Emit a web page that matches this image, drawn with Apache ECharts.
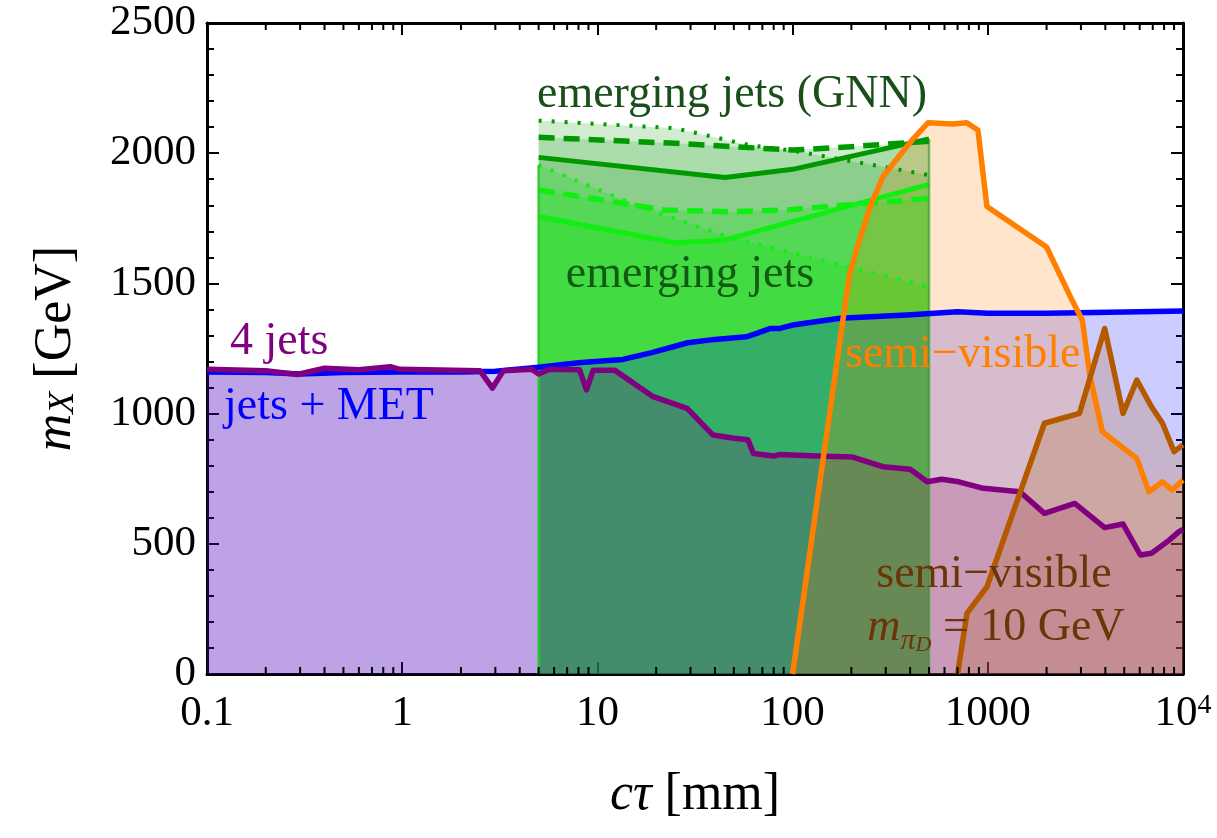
<!DOCTYPE html>
<html><head><meta charset="utf-8">
<script src="https://cdn.jsdelivr.net/npm/echarts@6/dist/echarts.min.js"></script>
<style>html,body{margin:0;padding:0;background:#fff}#c{width:1217px;height:838px}</style>
</head><body><div id="c"></div>
<script>
// ---- tick labels ----
const xTickLabels = ['0.1', '1', '10', '100', '1000', '{b|10}{s|4}'];
const yTickStep = 500;

// ---- jets + MET (blue) ----
const ctJetsMET = [0.1, 0.2, 0.3, 0.5, 1, 2, 3, 5, 8, 13.5, 19, 29, 40, 58, 66, 77, 86, 100, 175, 385, 700, 1000, 2000, 5000, 10000];
const mJetsMET  = [1160, 1158, 1152, 1158, 1160, 1160, 1163, 1178, 1195, 1208, 1234, 1272, 1285, 1295, 1309, 1327, 1327, 1340, 1366, 1379, 1391, 1385, 1385, 1390, 1394];

// ---- 4 jets (purple) ----
const ct4jets = [0.1, 0.2, 0.29, 0.4, 0.6, 0.87, 0.97, 2.5, 2.9, 3.3, 4.6, 5.0, 5.7, 8.1, 8.8, 9.5, 12.3, 19.3, 28.8, 39, 50, 59, 63, 80, 86, 133, 203, 290, 400, 490, 580, 710, 950, 1460, 1950, 2790, 3970, 4930, 6050, 6900, 8500, 9500, 10000];
const m4jets  = [1170, 1165, 1150, 1174, 1168, 1180, 1170, 1165, 1098, 1165, 1170, 1152, 1170, 1168, 1091, 1166, 1166, 1065, 1020, 918, 905, 900, 847, 837, 843, 837, 833, 796, 786, 738, 748, 738, 713, 700, 617, 655, 562, 576, 457, 464, 514, 546, 555];

// ---- semi-visible (orange) ----
const ctSemi = [100, 195, 220, 250, 290, 350, 410, 495, 660, 780, 890, 990, 2000, 2700, 3050, 3340, 3870, 5800, 6700, 7850, 8800, 10000];
const mSemi  = [0, 1530, 1667, 1795, 1910, 1987, 2051, 2117, 2112, 2117, 2089, 1795, 1640, 1436, 1359, 1142, 930, 828, 700, 738, 707, 745];

// ---- semi-visible m_piD = 10 GeV (brown) ----
const ctSemi10 = [700, 782, 990, 1950, 2950, 3970, 4930, 5800, 6900, 7850, 9000, 10000];
const mSemi10  = [0, 233, 335, 963, 1001, 1327, 1001, 1129, 1026, 963, 854, 880];

// ---- emerging jets (GNN) ----
const ctGnnSolid = [5, 45, 100, 500];
const mGnnSolid  = [1984, 1907, 1938, 2055];
const ctGnnDash  = [5, 25, 100, 200, 500];
const mGnnDash   = [2061, 2038, 2012, 2025, 2046];
const ctGnnDot   = [5, 25, 60, 100, 500];
const mGnnDot    = [2125, 2096, 2031, 2010, 1916];

// ---- emerging jets ----
const ctEjSolid = [5, 25, 45, 500];
const mEjSolid  = [1757, 1656, 1667, 1880];
const ctEjDash  = [5, 22, 46, 93, 500];
const mEjDash   = [1859, 1782, 1775, 1782, 1827];
const ctEjDot   = [5, 15, 46, 500];
const mEjDot    = [1955, 1807, 1680, 1487];

const FONT = 'Liberation Serif, DejaVu Serif, serif';

// minor log ticks (2..9 per decade)
const minorX = [];
for (let d = -1; d < 4; d++) for (let k = 2; k <= 9; k++) minorX.push(k * Math.pow(10, d));

function pairs(xs, ys) { return xs.map((x, i) => [x, ys[i]]); }
function area(xs, ys, color, width, type, fill, op) {
  return {
    type: 'line', data: pairs(xs, ys), symbol: 'none', showSymbol: false, silent: true,
    lineStyle: { color: color, width: width, type: type, join: 'round', cap: 'butt' },
    areaStyle: { color: fill, opacity: op }, z: 2
  };
}
function edge(x, top, color, op) {
  return { type: 'line', data: [[x, 0], [x, top]], symbol: 'none', silent: true,
    lineStyle: { color: color, width: 2.5, opacity: op }, z: 2 };
}

const GNN = '#009a00', GNNF = 'rgb(0,150,0)';
const EJ = '#11ee11', EJF = 'rgb(0,230,0)';

const series = [
  area(ctGnnDot, mGnnDot, GNN, 4, [3, 10], GNNF, 0.18),
  area(ctGnnDash, mGnnDash, GNN, 5.5, [16, 9], GNNF, 0.18),
  area(ctGnnSolid, mGnnSolid, GNN, 5, 'solid', GNNF, 0.18),
  area(ctEjDot, mEjDot, EJ, 4, [3, 10], EJF, 0.22),
  area(ctEjDash, mEjDash, EJ, 5.5, [16, 9], EJF, 0.22),
  area(ctEjSolid, mEjSolid, EJ, 5, 'solid', EJF, 0.22),
  edge(ctEjSolid[0], mEjDot[0], '#22cc22', 0.9),
  edge(ctGnnSolid[ctGnnSolid.length - 1], mGnnSolid[mGnnSolid.length - 1], '#2a9a2a', 0.6),
  area(ctJetsMET, mJetsMET, '#0000ff', 5.5, 'solid', 'rgb(0,0,255)', 0.2),
  area(ct4jets, m4jets, '#800080', 5.5, 'solid', 'rgb(128,0,128)', 0.2),
  area(ctSemi, mSemi, '#ff8000', 5.5, 'solid', 'rgb(255,127,0)', 0.2),
  area(ctSemi10, mSemi10, '#b35a00', 5.5, 'solid', 'rgb(170,85,0)', 0.2),
  {
    type: 'custom', coordinateSystem: 'cartesian2d', silent: true, z: 10, clip: false,
    data: minorX.map(v => [v, 0]),
    renderItem: function (params, api) {
      const v = api.value(0);
      const b = api.coord([v, 0]);
      const t = api.coord([v, 2500]);
      const st = { stroke: '#000', lineWidth: 2 };
      return { type: 'group', children: [
        { type: 'line', shape: { x1: b[0], y1: b[1], x2: b[0], y2: b[1] - 7 }, style: st },
        { type: 'line', shape: { x1: t[0], y1: t[1], x2: t[0], y2: t[1] + 7 }, style: st }
      ] };
    }
  }
];

const axLine = { show: true, onZero: false, lineStyle: { color: '#000', width: 3 } };
const tick = { show: true, inside: true, length: 12, lineStyle: { color: '#000', width: 2 } };

const option = {
  animation: false,
  backgroundColor: '#fff',
  textStyle: { fontFamily: FONT },
  grid: { left: 207, right: 34, top: 23, bottom: 164, containLabel: false },
  xAxis: [
    {
      type: 'log', logBase: 10, min: 0.1, max: 10000, position: 'bottom',
      axisLine: axLine, axisTick: tick, splitLine: { show: false },
      axisLabel: {
        show: true, margin: 18, color: '#000', fontFamily: FONT, fontSize: 43,
        showMinLabel: true, showMaxLabel: true, hideOverlap: false,
        formatter: function (v) { return xTickLabels[Math.round(Math.log10(v)) + 1]; },
        rich: {
          b: { fontFamily: FONT, fontSize: 43, color: '#000' },
          s: { fontFamily: FONT, fontSize: 28, color: '#000', verticalAlign: 'top' }
        }
      },
      name: '{i|cτ} [mm]', nameLocation: 'middle', nameGap: 95,
      nameTextStyle: { fontFamily: FONT, fontSize: 52, color: '#000',
        rich: { i: { fontFamily: FONT, fontSize: 52, fontStyle: 'italic', color: '#000' } } }
    },
    {
      type: 'log', logBase: 10, min: 0.1, max: 10000, position: 'top',
      axisLine: axLine, axisTick: tick, axisLabel: { show: false }, splitLine: { show: false }
    }
  ],
  yAxis: [
    {
      type: 'value', min: 0, max: 2500, interval: yTickStep, position: 'left',
      axisLine: axLine, axisTick: tick,
      minorTick: { show: true, splitNumber: 5, length: 7, lineStyle: { color: '#000', width: 2 } },
      splitLine: { show: false }, minorSplitLine: { show: false },
      axisLabel: { margin: 11, color: '#000', fontFamily: FONT, fontSize: 43,
        formatter: function (v) { return String(v); } },
      name: '{i|m}{x|X} [GeV]', nameLocation: 'middle', nameGap: 125, nameRotate: 90,
      nameTextStyle: { fontFamily: FONT, fontSize: 52, color: '#000',
        rich: {
          i: { fontFamily: FONT, fontSize: 52, fontStyle: 'italic', color: '#000' },
          x: { fontFamily: FONT, fontSize: 36, fontStyle: 'italic', color: '#000', verticalAlign: 'bottom' }
        } }
    },
    {
      type: 'value', min: 0, max: 2500, interval: yTickStep, position: 'right',
      axisLine: axLine, axisTick: tick,
      minorTick: { show: true, splitNumber: 5, length: 7, lineStyle: { color: '#000', width: 2 } },
      splitLine: { show: false }, axisLabel: { show: false }
    }
  ],
  graphic: [
    { type: 'text', x: 732, y: 95, z: 100, style: { text: 'emerging jets (GNN)', fontFamily: FONT, fontSize: 46, fill: '#1a4f1a', align: 'center', verticalAlign: 'middle' } },
    { type: 'text', x: 690, y: 275, z: 100, style: { text: 'emerging jets', fontFamily: FONT, fontSize: 46, fill: '#125a12', align: 'center', verticalAlign: 'middle' } },
    { type: 'text', x: 230, y: 342, z: 100, style: { text: '4 jets', fontFamily: FONT, fontSize: 46, fill: '#800080', align: 'left', verticalAlign: 'middle' } },
    { type: 'text', x: 224, y: 407, z: 100, style: { text: 'jets + MET', fontFamily: FONT, fontSize: 46, fill: '#0000ff', align: 'left', verticalAlign: 'middle' } },
    { type: 'text', x: 845, y: 355, z: 100, style: { text: 'semi−visible', fontFamily: FONT, fontSize: 46, fill: '#ff8000', align: 'left', verticalAlign: 'middle' } },
    { type: 'text', x: 994, y: 575, z: 100, style: { text: 'semi−visible', fontFamily: FONT, fontSize: 46, fill: '#6b3508', align: 'center', verticalAlign: 'middle' } },
    { type: 'text', x: 996, y: 628, z: 100, style: {
        text: '{m|m}{p|π}{d|D}{r| = 10 GeV}', align: 'center', verticalAlign: 'middle',
        rich: {
          m: { fontFamily: FONT, fontSize: 46, fontStyle: 'italic', fill: '#6b3508', lineHeight: 56, verticalAlign: 'middle' },
          p: { fontFamily: FONT, fontSize: 30, fontStyle: 'italic', fill: '#6b3508', lineHeight: 22, verticalAlign: 'bottom' },
          d: { fontFamily: FONT, fontSize: 22, fontStyle: 'italic', fill: '#6b3508', lineHeight: 6, verticalAlign: 'bottom' },
          r: { fontFamily: FONT, fontSize: 46, fill: '#6b3508', lineHeight: 56, verticalAlign: 'middle' }
        } } }
  ],
  series: series
};

const chart = echarts.init(document.getElementById('c'), null, { renderer: 'canvas' });
chart.setOption(option);
</script>
</body></html>
